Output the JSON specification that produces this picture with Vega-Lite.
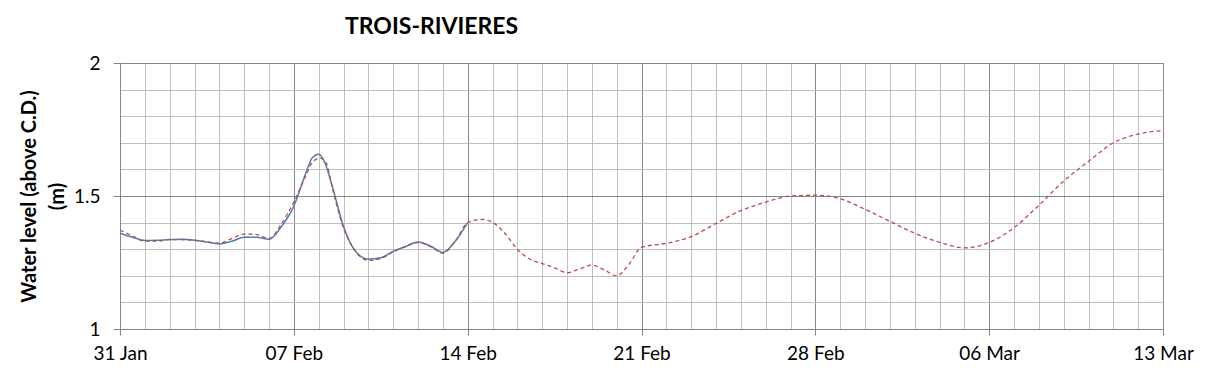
{
  "$schema": "https://vega.github.io/schema/vega-lite/v6.json",
  "width": 1043,
  "height": 266,
  "autosize": {"type": "none"},
  "padding": {"left": 120, "top": 63, "right": 46, "bottom": 49},
  "background": "white",
  "config": {"view": {"stroke": null}, "font": "Lato"},
  "title": {"text": "TROIS-RIVIERES", "anchor": "start", "frame": "group", "dx": 225, "offset": 15, "fontSize": 23, "font": "Lato", "fontWeight": "bold", "color": "black"},
  "data": {"values": [
    {"t": "2024-01-31T00:00:00Z", "v": 1.360, "s": "obs"},
    {"t": "2024-01-31T12:00:00Z", "v": 1.345, "s": "obs"},
    {"t": "2024-02-01T00:00:00Z", "v": 1.333, "s": "obs"},
    {"t": "2024-02-01T12:00:00Z", "v": 1.334, "s": "obs"},
    {"t": "2024-02-02T00:00:00Z", "v": 1.336, "s": "obs"},
    {"t": "2024-02-02T12:00:00Z", "v": 1.337, "s": "obs"},
    {"t": "2024-02-03T00:00:00Z", "v": 1.334, "s": "obs"},
    {"t": "2024-02-03T12:00:00Z", "v": 1.327, "s": "obs"},
    {"t": "2024-02-04T00:00:00Z", "v": 1.320, "s": "obs"},
    {"t": "2024-02-04T12:00:00Z", "v": 1.330, "s": "obs"},
    {"t": "2024-02-05T00:00:00Z", "v": 1.345, "s": "obs"},
    {"t": "2024-02-05T12:00:00Z", "v": 1.345, "s": "obs"},
    {"t": "2024-02-06T00:00:00Z", "v": 1.337, "s": "obs"},
    {"t": "2024-02-06T12:00:00Z", "v": 1.385, "s": "obs"},
    {"t": "2024-02-07T00:00:00Z", "v": 1.462, "s": "obs"},
    {"t": "2024-02-07T12:00:00Z", "v": 1.590, "s": "obs"},
    {"t": "2024-02-07T18:00:00Z", "v": 1.645, "s": "obs"},
    {"t": "2024-02-08T00:00:00Z", "v": 1.657, "s": "obs"},
    {"t": "2024-02-08T06:00:00Z", "v": 1.625, "s": "obs"},
    {"t": "2024-02-08T12:00:00Z", "v": 1.553, "s": "obs"},
    {"t": "2024-02-09T00:00:00Z", "v": 1.385, "s": "obs"},
    {"t": "2024-02-09T12:00:00Z", "v": 1.290, "s": "obs"},
    {"t": "2024-02-10T00:00:00Z", "v": 1.263, "s": "obs"},
    {"t": "2024-02-10T12:00:00Z", "v": 1.268, "s": "obs"},
    {"t": "2024-02-11T00:00:00Z", "v": 1.292, "s": "obs"},
    {"t": "2024-02-11T12:00:00Z", "v": 1.310, "s": "obs"},
    {"t": "2024-02-12T00:00:00Z", "v": 1.327, "s": "obs"},
    {"t": "2024-02-12T12:00:00Z", "v": 1.312, "s": "obs"},
    {"t": "2024-02-13T00:00:00Z", "v": 1.288, "s": "obs"},
    {"t": "2024-02-13T12:00:00Z", "v": 1.330, "s": "obs"},
    {"t": "2024-02-14T00:00:00Z", "v": 1.400, "s": "obs"},
    {"t": "2024-01-31T00:00:00Z", "v": 1.372, "s": "fc"},
    {"t": "2024-01-31T12:00:00Z", "v": 1.350, "s": "fc"},
    {"t": "2024-02-01T00:00:00Z", "v": 1.330, "s": "fc"},
    {"t": "2024-02-01T12:00:00Z", "v": 1.330, "s": "fc"},
    {"t": "2024-02-02T00:00:00Z", "v": 1.336, "s": "fc"},
    {"t": "2024-02-03T00:00:00Z", "v": 1.334, "s": "fc"},
    {"t": "2024-02-03T12:00:00Z", "v": 1.327, "s": "fc"},
    {"t": "2024-02-04T00:00:00Z", "v": 1.323, "s": "fc"},
    {"t": "2024-02-04T12:00:00Z", "v": 1.340, "s": "fc"},
    {"t": "2024-02-05T00:00:00Z", "v": 1.357, "s": "fc"},
    {"t": "2024-02-05T12:00:00Z", "v": 1.355, "s": "fc"},
    {"t": "2024-02-06T00:00:00Z", "v": 1.340, "s": "fc"},
    {"t": "2024-02-06T12:00:00Z", "v": 1.395, "s": "fc"},
    {"t": "2024-02-07T00:00:00Z", "v": 1.478, "s": "fc"},
    {"t": "2024-02-07T12:00:00Z", "v": 1.580, "s": "fc"},
    {"t": "2024-02-07T18:00:00Z", "v": 1.628, "s": "fc"},
    {"t": "2024-02-08T02:00:00Z", "v": 1.642, "s": "fc"},
    {"t": "2024-02-08T08:00:00Z", "v": 1.618, "s": "fc"},
    {"t": "2024-02-08T12:00:00Z", "v": 1.550, "s": "fc"},
    {"t": "2024-02-09T00:00:00Z", "v": 1.380, "s": "fc"},
    {"t": "2024-02-09T12:00:00Z", "v": 1.290, "s": "fc"},
    {"t": "2024-02-10T00:00:00Z", "v": 1.258, "s": "fc"},
    {"t": "2024-02-10T12:00:00Z", "v": 1.265, "s": "fc"},
    {"t": "2024-02-11T00:00:00Z", "v": 1.290, "s": "fc"},
    {"t": "2024-02-11T12:00:00Z", "v": 1.310, "s": "fc"},
    {"t": "2024-02-12T00:00:00Z", "v": 1.325, "s": "fc"},
    {"t": "2024-02-12T12:00:00Z", "v": 1.310, "s": "fc"},
    {"t": "2024-02-13T00:00:00Z", "v": 1.285, "s": "fc"},
    {"t": "2024-02-13T12:00:00Z", "v": 1.330, "s": "fc"},
    {"t": "2024-02-14T00:00:00Z", "v": 1.400, "s": "fc"},
    {"t": "2024-02-14T14:00:00Z", "v": 1.412, "s": "fc"},
    {"t": "2024-02-15T00:00:00Z", "v": 1.401, "s": "fc"},
    {"t": "2024-02-15T12:00:00Z", "v": 1.360, "s": "fc"},
    {"t": "2024-02-16T00:00:00Z", "v": 1.300, "s": "fc"},
    {"t": "2024-02-16T12:00:00Z", "v": 1.263, "s": "fc"},
    {"t": "2024-02-17T00:00:00Z", "v": 1.246, "s": "fc"},
    {"t": "2024-02-17T12:00:00Z", "v": 1.230, "s": "fc"},
    {"t": "2024-02-18T00:00:00Z", "v": 1.212, "s": "fc"},
    {"t": "2024-02-18T12:00:00Z", "v": 1.225, "s": "fc"},
    {"t": "2024-02-19T00:00:00Z", "v": 1.240, "s": "fc"},
    {"t": "2024-02-19T12:00:00Z", "v": 1.222, "s": "fc"},
    {"t": "2024-02-20T00:00:00Z", "v": 1.200, "s": "fc"},
    {"t": "2024-02-20T12:00:00Z", "v": 1.244, "s": "fc"},
    {"t": "2024-02-21T00:00:00Z", "v": 1.307, "s": "fc"},
    {"t": "2024-02-22T00:00:00Z", "v": 1.322, "s": "fc"},
    {"t": "2024-02-23T00:00:00Z", "v": 1.347, "s": "fc"},
    {"t": "2024-02-24T00:00:00Z", "v": 1.397, "s": "fc"},
    {"t": "2024-02-25T00:00:00Z", "v": 1.445, "s": "fc"},
    {"t": "2024-02-26T00:00:00Z", "v": 1.477, "s": "fc"},
    {"t": "2024-02-27T00:00:00Z", "v": 1.500, "s": "fc"},
    {"t": "2024-02-28T00:00:00Z", "v": 1.503, "s": "fc"},
    {"t": "2024-02-29T00:00:00Z", "v": 1.490, "s": "fc"},
    {"t": "2024-03-01T00:00:00Z", "v": 1.450, "s": "fc"},
    {"t": "2024-03-02T00:00:00Z", "v": 1.405, "s": "fc"},
    {"t": "2024-03-03T00:00:00Z", "v": 1.360, "s": "fc"},
    {"t": "2024-03-04T00:00:00Z", "v": 1.326, "s": "fc"},
    {"t": "2024-03-05T00:00:00Z", "v": 1.305, "s": "fc"},
    {"t": "2024-03-06T00:00:00Z", "v": 1.325, "s": "fc"},
    {"t": "2024-03-07T00:00:00Z", "v": 1.381, "s": "fc"},
    {"t": "2024-03-08T00:00:00Z", "v": 1.465, "s": "fc"},
    {"t": "2024-03-09T00:00:00Z", "v": 1.556, "s": "fc"},
    {"t": "2024-03-10T00:00:00Z", "v": 1.630, "s": "fc"},
    {"t": "2024-03-11T00:00:00Z", "v": 1.700, "s": "fc"},
    {"t": "2024-03-12T00:00:00Z", "v": 1.733, "s": "fc"},
    {"t": "2024-03-13T00:00:00Z", "v": 1.746, "s": "fc"}
  ]},
  "encoding": {
    "x": {
      "field": "t", "type": "temporal",
      "scale": {"type": "utc", "domain": [{"year": 2024, "month": 1, "date": 31, "utc": true}, {"year": 2024, "month": 3, "date": 13, "utc": true}]},
      "axis": {
        "title": null,
        "tickCount": {"interval": "day", "step": 1},
        "grid": true,
        "gridColor": {"condition": {"test": "utcday(datum.value) === 3", "value": "#868686"}, "value": "#BFBFBF"},
        "gridWidth": 1,
        "tickOpacity": {"condition": {"test": "utcday(datum.value) === 3", "value": 1}, "value": 0},
        "tickColor": "#868686",
        "tickSize": 6,
        "domainColor": "#868686",
        "labelExpr": "utcday(datum.value) === 3 ? utcFormat(datum.value, '%d %b') : ''",
        "labelOverlap": false,
        "labelFlush": false,
        "labelBound": false,
        "labelFont": "Lato",
        "labelFontSize": 19,
        "labelColor": "black",
        "labelPadding": 9
      }
    },
    "y": {
      "field": "v", "type": "quantitative",
      "scale": {"domain": [1, 2], "nice": false, "zero": false},
      "axis": {
        "title": ["Water level (above C.D.)", "(m)"],
        "titleFont": "Lato",
        "titleFontSize": 20,
        "titleFontWeight": "bold",
        "titleColor": "black",
        "titleLineHeight": 28,
        "titlePadding": 6,
        "values": [1, 1.1, 1.2, 1.3, 1.4, 1.5, 1.6, 1.7, 1.8, 1.9, 2],
        "format": "~g",
        "grid": true,
        "gridColor": {"condition": {"test": "abs(datum.value * 2 - round(datum.value * 2)) < 0.01", "value": "#868686"}, "value": "#BFBFBF"},
        "tickOpacity": {"condition": {"test": "abs(datum.value * 2 - round(datum.value * 2)) < 0.01", "value": 1}, "value": 0},
        "tickColor": "#868686",
        "tickSize": 7,
        "domainColor": "#868686",
        "labelExpr": "abs(datum.value * 2 - round(datum.value * 2)) < 0.01 ? datum.label : ''",
        "labelOverlap": false,
        "labelFont": "Lato",
        "labelFontSize": 19,
        "labelColor": "black",
        "labelPadding": 13
      }
    }
  },
  "layer": [
    {
      "transform": [{"filter": "datum.s === 'obs'"}],
      "mark": {"type": "line", "interpolate": "monotone", "color": "#4A7EBB", "strokeWidth": 1.5}
    },
    {
      "transform": [{"filter": "datum.s === 'fc'"}],
      "mark": {"type": "line", "interpolate": "monotone", "color": "#BE4B48", "strokeWidth": 1.3, "strokeDash": [4, 3]}
    }
  ]
}
